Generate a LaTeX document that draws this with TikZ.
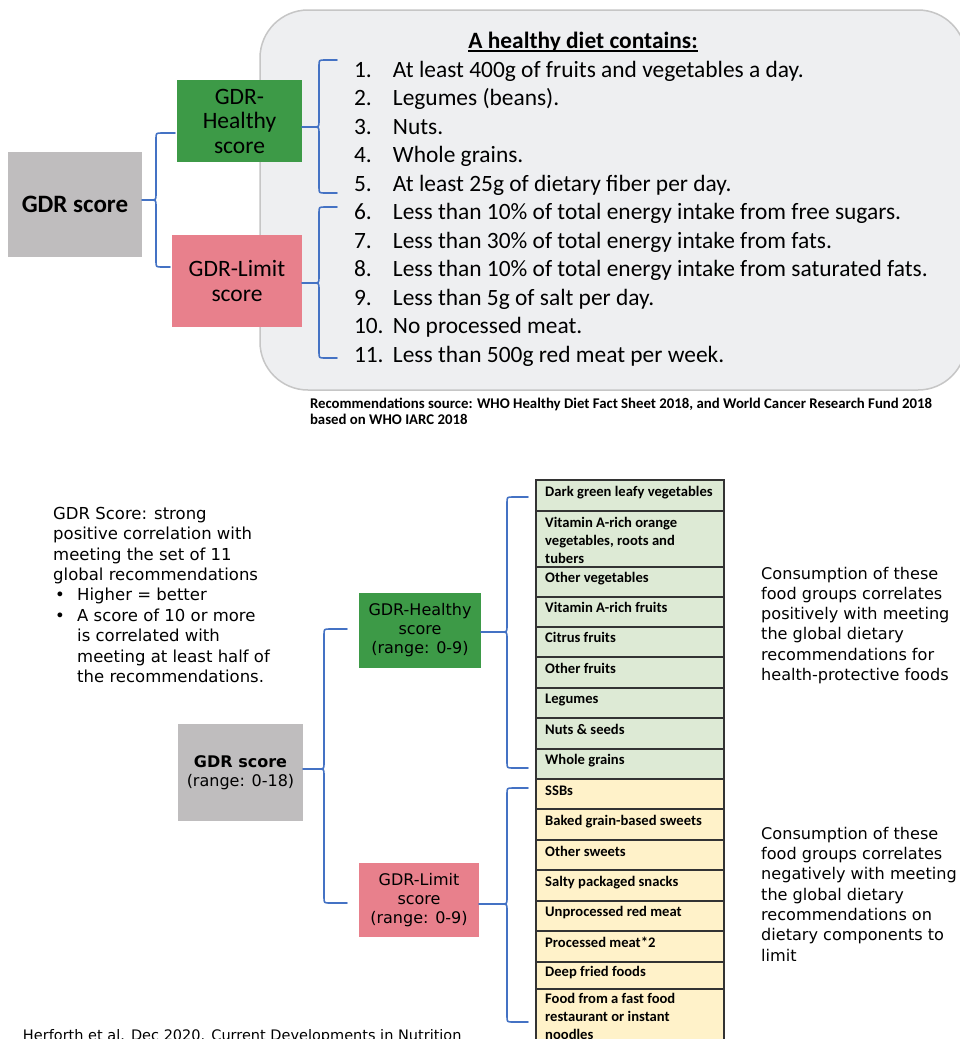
\documentclass[tikz,border=0pt]{standalone}
\usepackage{fontspec}
\setmainfont{Carlito}
\newfontfamily\dv{DejaVu Sans}
\usetikzlibrary{calc}
\definecolor{bracec}{HTML}{4472C4}
\definecolor{graybox}{HTML}{BFBDBE}
\definecolor{greenbox}{HTML}{3D9A47}
\definecolor{pinkbox}{HTML}{E8808C}
\definecolor{panelfill}{HTML}{EEEFF1}
\definecolor{panelline}{HTML}{C6C6C6}
\definecolor{tgreen}{HTML}{DDEAD5}
\definecolor{tyellow}{HTML}{FFF2C9}
\definecolor{tline}{HTML}{333333}
\newcommand\drawbrace[8]{%
 % #1 source node, #2 top target, #3 bottom target, #4 vertical x, #5 top y, #6 mid y, #7 bottom y, #8 gap
 \draw[brc] ($(#2.west|-0,#5)+(-#8,0)$) -- ({#4+6},#5) .. controls (#4,#5) .. (#4,{#5+6}) -- (#4,{#6-6}) .. controls (#4,#6) .. ({#4-6},#6) -- (#1.east|-0,#6);
 \draw[brc] ({#4-6},#6) .. controls (#4,#6) .. (#4,{#6+6}) -- (#4,{#7-6}) .. controls (#4,#7) .. ({#4+6},#7) -- ($(#3.west|-0,#7)+(-#8,0)$);
}
\begin{document}
\begin{tikzpicture}[x=1pt,y=-1pt,
  brc/.style={draw=bracec, line width=1.6pt, line cap=round, line join=round},
  sbox/.style={inner sep=0pt, outer sep=0pt, align=center, text=black},
  item/.style={anchor=base west, inner sep=0pt, outer sep=0pt},
  trow/.style={draw=tline, line width=1.4pt, minimum width=188pt, inner sep=0pt, outer sep=0pt},
  ttext/.style={anchor=base west, inner sep=0pt, align=left, font=\bfseries\fontsize{14.6}{18}\selectfont},
  listf/.style={font=\fontsize{23.4}{28.5}\selectfont},
  dvtext/.style={anchor=base west, inner sep=0pt, align=left, font=\dv\fontsize{16.1}{20.3}\selectfont}
]
\useasboundingbox (0,0) rectangle (960,1039);
\clip (0,0) rectangle (960,1039);
\fill[white] (0,0) rectangle (960,1039);

% ---------------- top panel ----------------
\draw[fill=panelfill, draw=panelline, line width=1.5pt, rounded corners=48pt] (260,10) rectangle (966,390);

\node[item, font=\bfseries\fontsize{23.4}{28}\selectfont, anchor=base] (title) at (583,48) {A healthy diet contains:};
\draw[line width=1.3pt] ($(title.base west)+(0,3)$) -- ($(title.base east)+(0,3)$);

\node[item, listf] (i1) at (354,77) {\makebox[39pt][l]{1.}At least 400g of fruits and vegetables a day.};
\node[item, listf] (i2) at (354,105.5) {\makebox[39pt][l]{2.}Legumes (beans).};
\node[item, listf] (i3) at (354,134) {\makebox[39pt][l]{3.}Nuts.};
\node[item, listf] (i4) at (354,162.5) {\makebox[39pt][l]{4.}Whole grains.};
\node[item, listf] (i5) at (354,191) {\makebox[39pt][l]{5.}At least 25g of dietary fiber per day.};
\node[item, listf] (i6) at (354,219.5) {\makebox[39pt][l]{6.}Less than 10\% of total energy intake from free sugars.};
\node[item, listf] (i7) at (354,248) {\makebox[39pt][l]{7.}Less than 30\% of total energy intake from fats.};
\node[item, listf] (i8) at (354,276.5) {\makebox[39pt][l]{8.}Less than 10\% of total energy intake from saturated fats.};
\node[item, listf] (i9) at (354,305) {\makebox[39pt][l]{9.}Less than 5g of salt per day.};
\node[item, listf] (i10) at (354,333.5) {\makebox[39pt][l]{10.}No processed meat.};
\node[item, listf] (i11) at (354,362) {\makebox[39pt][l]{11.}Less than 500g red meat per week.};

\node[item, font=\bfseries\fontsize{14.8}{16}\selectfont] (src1) at (310,408) {Recommendations source: WHO Healthy Diet Fact Sheet 2018, and World Cancer Research Fund 2018};
\node[item, font=\bfseries\fontsize{14.8}{16}\selectfont] (src2) at (310,424) {based on WHO IARC 2018};

\node[sbox, fill=graybox, minimum width=134pt, minimum height=105pt, font=\bfseries\fontsize{25}{27}\selectfont] (gdrT) at (75,204.5) {GDR score};
\node[sbox, fill=greenbox, minimum width=125pt, minimum height=82pt, font=\fontsize{23.5}{24.5}\selectfont] (healthyT) at (239.5,121) {GDR-\\Healthy\\score};
\node[sbox, fill=pinkbox, minimum width=130pt, minimum height=92pt, font=\fontsize{23.5}{25}\selectfont] (limitT) at (237,281) {GDR-Limit\\score};

\drawbrace{gdrT}{healthyT}{limitT}{156}{133}{200}{267}{2}
\drawbrace{healthyT}{i1}{i5}{319}{60}{127}{193}{17}
\drawbrace{limitT}{i6}{i11}{319}{207}{283}{358}{17}

% ---------------- bottom part ----------------
% multi-line nodes: base anchor sits on the last line
\node[dvtext, font=\dv\fontsize{16.5}{20.4}\selectfont] (lt) at (53,682.5) {GDR Score: strong\\positive correlation with\\meeting the set of 11\\global recommendations\\\makebox[24pt][l]{\hspace{2pt}•}Higher = better\\\makebox[24pt][l]{\hspace{2pt}•}A score of 10 or more\\\hspace*{24pt}is correlated with\\\hspace*{24pt}meeting at least half of\\\hspace*{24pt}the recommendations.};

\node[sbox, fill=graybox, minimum width=125pt, minimum height=97pt, font=\dv\fontsize{16}{19}\selectfont] (gdrB) at (240.5,772.5) {\textbf{GDR score}\\(range: 0-18)};
\node[sbox, fill=greenbox, minimum width=122pt, minimum height=75pt, font=\dv\fontsize{16}{19}\selectfont] (healthyB) at (420,630.5) {GDR-Healthy\\score\\(range: 0-9)};
\node[sbox, fill=pinkbox, minimum width=120pt, minimum height=74pt, font=\dv\fontsize{16}{19}\selectfont] (limitB) at (419,900) {GDR-Limit\\score\\(range: 0-9)};

% table rows
\node[trow, fill=tgreen, minimum height=31pt] (r1) at (630,495.5) {};
\node[trow, fill=tgreen, minimum height=56pt] (r2) at (630,539) {};
\node[trow, fill=tgreen, minimum height=30pt] (r3) at (630,582) {};
\node[trow, fill=tgreen, minimum height=30pt] (r4) at (630,612) {};
\node[trow, fill=tgreen, minimum height=30pt] (r5) at (630,642) {};
\node[trow, fill=tgreen, minimum height=31pt] (r6) at (630,672.5) {};
\node[trow, fill=tgreen, minimum height=30pt] (r7) at (630,703) {};
\node[trow, fill=tgreen, minimum height=31pt] (r8) at (630,733.5) {};
\node[trow, fill=tgreen, minimum height=30pt] (r9) at (630,764) {};
\node[trow, fill=tyellow, minimum height=30pt] (r10) at (630,794) {};
\node[trow, fill=tyellow, minimum height=31pt] (r11) at (630,824.5) {};
\node[trow, fill=tyellow, minimum height=30pt] (r12) at (630,855) {};
\node[trow, fill=tyellow, minimum height=31pt] (r13) at (630,885.5) {};
\node[trow, fill=tyellow, minimum height=30pt] (r14) at (630,916) {};
\node[trow, fill=tyellow, minimum height=31pt] (r15) at (630,946.5) {};
\node[trow, fill=tyellow, minimum height=27pt] (r16) at (630,975.5) {};
\node[trow, fill=tyellow, minimum height=60pt] (r17) at (630,1019) {};

\node[ttext] (t1) at (545,496) {Dark green leafy vegetables};
\node[ttext] (t2) at (545,563) {Vitamin A-rich orange\\vegetables, roots and\\tubers};
\node[ttext] (t3) at (545,582.5) {Other vegetables};
\node[ttext] (t4) at (545,612.5) {Vitamin A-rich fruits};
\node[ttext] (t5) at (545,642.5) {Citrus fruits};
\node[ttext] (t6) at (545,673) {Other fruits};
\node[ttext] (t7) at (545,703.5) {Legumes};
\node[ttext] (t8) at (545,734) {Nuts \& seeds};
\node[ttext] (t9) at (545,764.5) {Whole grains};
\node[ttext] (t10) at (545,795) {SSBs};
\node[ttext] (t11) at (545,825.5) {Baked grain-based sweets};
\node[ttext] (t12) at (545,856) {Other sweets};
\node[ttext] (t13) at (545,886) {Salty packaged snacks};
\node[ttext] (t14) at (545,916.5) {Unprocessed red meat};
\node[ttext] (t15) at (545,947) {Processed meat*2};
\node[ttext] (t16) at (545,976) {Deep fried foods};
\node[ttext] (t17) at (545,1039.5) {Food from a fast food\\restaurant or instant\\noodles};

\drawbrace{gdrB}{healthyB}{limitB}{324}{629}{769}{903}{12}
\drawbrace{healthyB}{r1}{r9}{507}{497}{632}{768}{8}
\drawbrace{limitB}{r10}{r17}{507}{788}{904}{1022}{8}

\node[dvtext] (ct1) at (761,680.5) {Consumption of these\\food groups correlates\\positively with meeting\\the global dietary\\recommendations for\\health-protective foods};
\node[dvtext] (ct2) at (761,961) {Consumption of these\\food groups correlates\\negatively with meeting\\the global dietary\\recommendations on\\dietary components to\\limit};

\node[item, font=\dv\fontsize{14.5}{16}\selectfont] (foot) at (23,1040) {Herforth et al. Dec 2020. Current Developments in Nutrition};
\end{tikzpicture}
\end{document}
